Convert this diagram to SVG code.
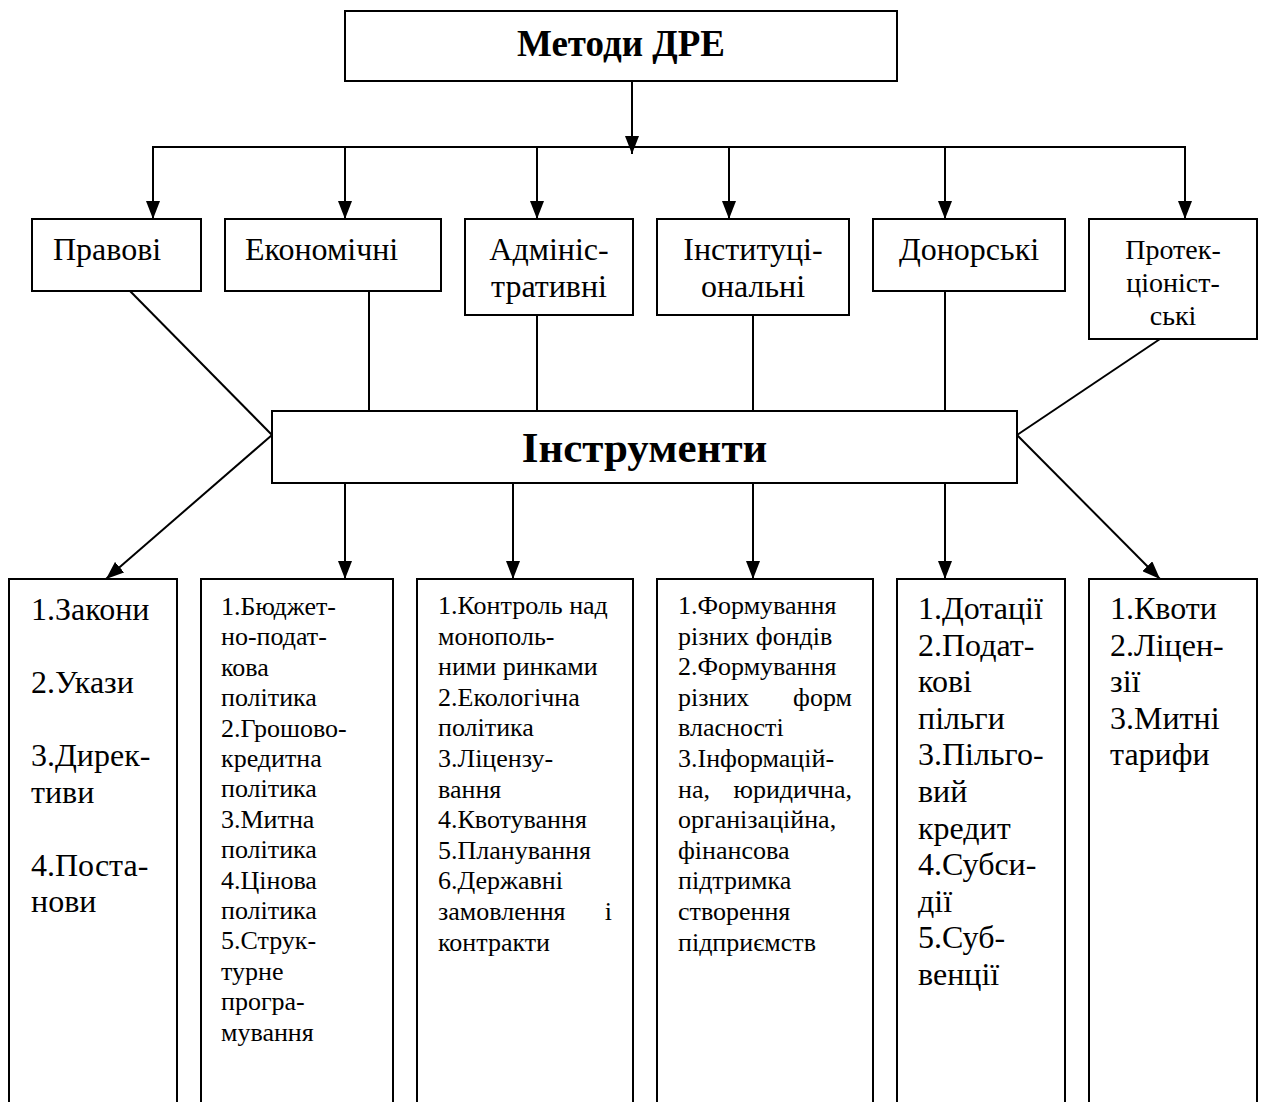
<svg xmlns="http://www.w3.org/2000/svg" width="1262" height="1102" viewBox="0 0 1262 1102">
<defs>
<marker id="ah" markerUnits="userSpaceOnUse" markerWidth="18" markerHeight="14" refX="18" refY="7" orient="auto">
<path d="M0,0 L18,7 L0,14 z" fill="#000"/>
</marker>
<style>
.box{fill:#fff;stroke:#000;stroke-width:2}
.ln{fill:none;stroke:#000;stroke-width:2}
.ar{fill:none;stroke:#000;stroke-width:2;marker-end:url(#ah)}
text{font-family:"Liberation Serif","Times New Roman",serif;fill:#000}
.t1{font-size:37px;font-weight:bold}
.t2{font-size:43px;font-weight:bold}
.lb{font-size:32px}
.lbs{font-size:28px}
.big{font-size:32px}
.sm{font-size:26px}
</style>
</defs>
<g id="connectors">
<polyline class="ar" points="632,81 632,154"/>
<line class="ln" x1="152" y1="147" x2="1186" y2="147"/>
<line class="ar" x1="153" y1="147" x2="153" y2="219"/>
<line class="ar" x1="345" y1="147" x2="345" y2="219"/>
<line class="ar" x1="537" y1="147" x2="537" y2="219"/>
<line class="ar" x1="729" y1="147" x2="729" y2="219"/>
<line class="ar" x1="945" y1="147" x2="945" y2="219"/>
<line class="ar" x1="1185" y1="147" x2="1185" y2="219"/>
<line class="ln" x1="130" y1="291" x2="272" y2="435"/>
<line class="ln" x1="369" y1="291" x2="369" y2="411"/>
<line class="ln" x1="537" y1="315" x2="537" y2="411"/>
<line class="ln" x1="753" y1="315" x2="753" y2="411"/>
<line class="ln" x1="945" y1="291" x2="945" y2="411"/>
<line class="ln" x1="1160" y1="339" x2="1017" y2="435"/>
<line class="ar" x1="272" y1="435" x2="106" y2="579"/>
<line class="ar" x1="345" y1="483" x2="345" y2="579"/>
<line class="ar" x1="513" y1="483" x2="513" y2="579"/>
<line class="ar" x1="753" y1="483" x2="753" y2="579"/>
<line class="ar" x1="945" y1="483" x2="945" y2="579"/>
<line class="ar" x1="1017" y1="435" x2="1160" y2="579"/>
</g>
<g id="metody">
<rect class="box" x="345" y="11" width="552" height="70"/>
<text class="t1" x="621" y="56" text-anchor="middle">Методи ДРЕ</text>
</g>
<g id="pravovi">
<rect class="box" x="32" y="219" width="169" height="72"/>
<text class="lb" x="53" y="260">Правові</text>
</g>
<g id="ekonomichni">
<rect class="box" x="225" y="219" width="216" height="72"/>
<text class="lb" x="245" y="260">Економічні</text>
</g>
<g id="administratyvni">
<rect class="box" x="465" y="219" width="168" height="96"/>
<text class="lb" x="549" y="260" text-anchor="middle">Адмініс-</text>
<text class="lb" x="549" y="297" text-anchor="middle">тративні</text>
</g>
<g id="instytutsionalni">
<rect class="box" x="657" y="219" width="192" height="96"/>
<text class="lb" x="753" y="260" text-anchor="middle">Інституці-</text>
<text class="lb" x="753" y="297" text-anchor="middle">ональні</text>
</g>
<g id="donorski">
<rect class="box" x="873" y="219" width="192" height="72"/>
<text class="lb" x="969" y="260" text-anchor="middle">Донорські</text>
</g>
<g id="protektsionistski">
<rect class="box" x="1089" y="219" width="168" height="120"/>
<text class="lbs" x="1173" y="259" text-anchor="middle">Протек-</text>
<text class="lbs" x="1173" y="292" text-anchor="middle">ціоніст-</text>
<text class="lbs" x="1173" y="325" text-anchor="middle">ські</text>
</g>
<g id="instrumenty">
<rect class="box" x="272" y="411" width="745" height="72"/>
<text class="t2" x="644.5" y="462" text-anchor="middle">Інструменти</text>
</g>
<g id="b1">
<rect class="box" x="9" y="579" width="168" height="540"/>
<text class="big" x="31" y="620">1.Закони</text>
<text class="big" x="31" y="693">2.Укази</text>
<text class="big" x="31" y="766">3.Дирек-</text>
<text class="big" x="31" y="802.5">тиви</text>
<text class="big" x="31" y="875.5">4.Поста-</text>
<text class="big" x="31" y="912">нови</text>
</g>
<g id="b2">
<rect class="box" x="201" y="579" width="192" height="540"/>
<text class="sm" x="221" y="615">1.Бюджет-</text>
<text class="sm" x="221" y="645.4">но-подат-</text>
<text class="sm" x="221" y="675.8">кова</text>
<text class="sm" x="221" y="706.2">політика</text>
<text class="sm" x="221" y="736.6">2.Грошово-</text>
<text class="sm" x="221" y="767">кредитна</text>
<text class="sm" x="221" y="797.4">політика</text>
<text class="sm" x="221" y="827.8">3.Митна</text>
<text class="sm" x="221" y="858.2">політика</text>
<text class="sm" x="221" y="888.6">4.Цінова</text>
<text class="sm" x="221" y="919">політика</text>
<text class="sm" x="221" y="949.4">5.Струк-</text>
<text class="sm" x="221" y="979.8">турне</text>
<text class="sm" x="221" y="1010.2">програ-</text>
<text class="sm" x="221" y="1040.6">мування</text>
</g>
<g id="b3">
<rect class="box" x="417" y="579" width="216" height="540"/>
<text class="sm" x="438" y="614">1.Контроль над</text>
<text class="sm" x="438" y="644.6">монополь-</text>
<text class="sm" x="438" y="675.2">ними ринками</text>
<text class="sm" x="438" y="705.8">2.Екологічна</text>
<text class="sm" x="438" y="736.4">політика</text>
<text class="sm" x="438" y="767">3.Ліцензу-</text>
<text class="sm" x="438" y="797.6">вання</text>
<text class="sm" x="438" y="828.2">4.Квотування</text>
<text class="sm" x="438" y="858.8">5.Планування</text>
<text class="sm" x="438" y="889.4">6.Державні</text>
<text class="sm" x="438" y="920">замовлення</text>
<text class="sm" x="612" y="920" text-anchor="end">і</text>
<text class="sm" x="438" y="950.6">контракти</text>
</g>
<g id="b4">
<rect class="box" x="657" y="579" width="216" height="540"/>
<text class="sm" x="678" y="614">1.Формування</text>
<text class="sm" x="678" y="644.6">різних фондів</text>
<text class="sm" x="678" y="675.2">2.Формування</text>
<text class="sm" x="678" y="705.8">різних</text>
<text class="sm" x="852" y="705.8" text-anchor="end">форм</text>
<text class="sm" x="678" y="736.4">власності</text>
<text class="sm" x="678" y="767">3.Інформацій-</text>
<text class="sm" x="678" y="797.6">на,</text>
<text class="sm" x="852" y="797.6" text-anchor="end">юридична,</text>
<text class="sm" x="678" y="828.2">організаційна,</text>
<text class="sm" x="678" y="858.8">фінансова</text>
<text class="sm" x="678" y="889.4">підтримка</text>
<text class="sm" x="678" y="920">створення</text>
<text class="sm" x="678" y="950.6">підприємств</text>
</g>
<g id="b5">
<rect class="box" x="897" y="579" width="168" height="540"/>
<text class="big" x="918" y="619">1.Дотації</text>
<text class="big" x="918" y="655.6">2.Подат-</text>
<text class="big" x="918" y="692.2">кові</text>
<text class="big" x="918" y="728.8">пільги</text>
<text class="big" x="918" y="765.4">3.Пільго-</text>
<text class="big" x="918" y="802">вий</text>
<text class="big" x="918" y="838.6">кредит</text>
<text class="big" x="918" y="875.2">4.Субси-</text>
<text class="big" x="918" y="911.8">дії</text>
<text class="big" x="918" y="948.4">5.Суб-</text>
<text class="big" x="918" y="985">венції</text>
</g>
<g id="b6">
<rect class="box" x="1089" y="579" width="168" height="540"/>
<text class="big" x="1110" y="619">1.Квоти</text>
<text class="big" x="1110" y="655.6">2.Ліцен-</text>
<text class="big" x="1110" y="692.2">зії</text>
<text class="big" x="1110" y="728.8">3.Митні</text>
<text class="big" x="1110" y="765.4">тарифи</text>
</g>
</svg>
